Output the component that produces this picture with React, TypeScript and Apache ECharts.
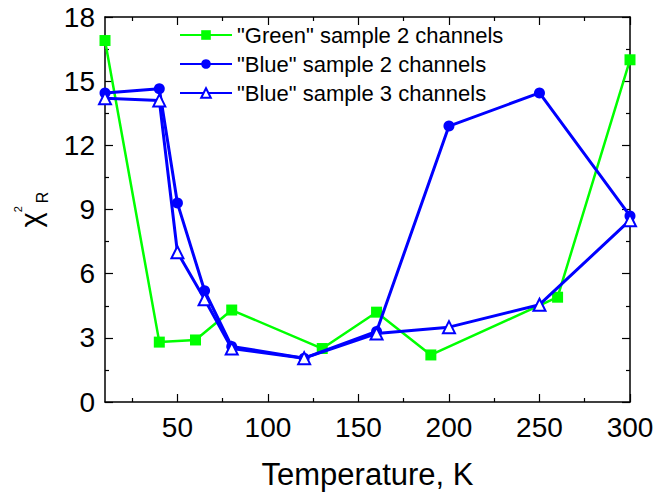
import React, { useEffect, useRef } from 'react';
import * as echarts from 'echarts';

// ---- data ----
const greenT = [10, 40, 60, 80, 130, 160, 190, 260, 300];
const greenV = [16.9, 2.8, 2.9, 4.3, 2.5, 4.2, 2.2, 4.9, 16.0];
const blueT = [10, 40, 50, 65, 80, 120, 160, 200, 250, 300];
const blue2V = [14.45, 14.65, 9.3, 5.2, 2.6, 2.05, 3.3, 12.9, 14.45, 8.7];
const blue3V = [14.2, 14.1, 7.0, 4.8, 2.5, 2.05, 3.2, 3.5, 4.55, 8.5];
const seriesNames = [
  '"Green" sample 2 channels',
  '"Blue" sample 2 channels',
  '"Blue" sample 3 channels',
];
const xMajorTicks = [50, 100, 150, 200, 250, 300];
const xMinorTicks = [25, 75, 125, 175, 225, 275];
const xTitle = 'Temperature, K';
const yTitle = '{c|χ}{s|2}{r|R}';

const FONT = '"Liberation Sans", Arial, Helvetica, sans-serif';
const GREEN = '#00ff00';
const BLUE = '#0000ff';

export default function App() {
  const ref = useRef<HTMLDivElement>(null);
  useEffect(() => {
    if (!ref.current) return;
    const chart = echarts.init(ref.current, undefined, { renderer: 'svg' });
    const axisLine = { show: true, lineStyle: { color: '#000', width: 1.5 } };
    const tickStyle = { color: '#000', width: 1.2 };
    const xBase: any = {
      type: 'value',
      min: 10,
      max: 300,
      splitLine: { show: false },
      gridIndex: 0,
    };
    const yBase: any = {
      type: 'value',
      min: 0,
      max: 18,
      interval: 3,
      splitLine: { show: false },
      axisLine,
      axisTick: { show: true, inside: true, length: 8, lineStyle: tickStyle },
      minorTick: { show: true, splitNumber: 2, length: 4, lineStyle: tickStyle },
    };
    const option: any = {
      animation: false,
      backgroundColor: '#fff',
      grid: { left: 105, right: 27, top: 17, bottom: 96, containLabel: false },
      legend: {
        data: seriesNames,
        orient: 'vertical',
        left: 179,
        top: 24,
        itemWidth: 52,
        itemHeight: 12,
        itemGap: 7,
        padding: 0,
        textStyle: { fontSize: 22, color: '#000', fontFamily: FONT },
      },
      xAxis: [
        {
          ...xBase,
          position: 'bottom',
          axisLine,
          axisTick: { show: true, inside: true, length: 8, customValues: xMajorTicks, lineStyle: tickStyle },
          axisLabel: { customValues: xMajorTicks, fontSize: 28, margin: 11, color: '#000', fontFamily: FONT },
          name: xTitle,
          nameLocation: 'middle',
          nameGap: 57,
          nameTextStyle: { fontSize: 31, color: '#000', fontFamily: FONT },
        },
        {
          ...xBase,
          position: 'bottom',
          axisLine: { show: false },
          axisTick: { show: true, inside: true, length: 4, customValues: xMinorTicks, lineStyle: tickStyle },
          axisLabel: { show: false },
        },
        {
          ...xBase,
          position: 'top',
          axisLine,
          axisTick: { show: true, inside: true, length: 8, customValues: xMajorTicks, lineStyle: tickStyle },
          axisLabel: { show: false },
        },
        {
          ...xBase,
          position: 'top',
          axisLine: { show: false },
          axisTick: { show: true, inside: true, length: 4, customValues: xMinorTicks, lineStyle: tickStyle },
          axisLabel: { show: false },
        },
      ],
      yAxis: [
        {
          ...yBase,
          position: 'left',
          axisLabel: { fontSize: 28, margin: 10, color: '#000', fontFamily: FONT },
          name: yTitle,
          nameLocation: 'middle',
          nameRotate: 90,
          nameGap: 55,
          nameTextStyle: {
            color: '#000',
            fontFamily: FONT,
            rich: {
              c: { fontSize: 29, fontFamily: FONT, color: '#000', lineHeight: 38, verticalAlign: 'middle' },
              s: { fontSize: 11, fontFamily: FONT, color: '#000', lineHeight: 38, verticalAlign: 'top', padding: [0, 0, 0, 0] },
              r: { fontSize: 16, fontFamily: FONT, color: '#000', lineHeight: 38, verticalAlign: 'bottom', padding: [0, 0, 0, 3] },
            },
          },
        },
        {
          ...yBase,
          position: 'right',
          axisLabel: { show: false },
        },
      ],
      series: [
        {
          type: 'line',
          name: seriesNames[0],
          xAxisIndex: 0,
          yAxisIndex: 0,
          data: greenT.map((t, i) => [t, greenV[i]]),
          symbol: 'rect',
          symbolSize: 11,
          lineStyle: { color: GREEN, width: 2.5 },
          itemStyle: { color: GREEN },
          z: 2,
        },
        {
          type: 'line',
          name: seriesNames[1],
          xAxisIndex: 0,
          yAxisIndex: 0,
          data: blueT.map((t, i) => [t, blue2V[i]]),
          symbol: 'circle',
          symbolSize: 11,
          lineStyle: { color: BLUE, width: 3 },
          itemStyle: { color: BLUE },
          z: 3,
        },
        {
          type: 'line',
          name: seriesNames[2],
          xAxisIndex: 0,
          yAxisIndex: 0,
          data: blueT.map((t, i) => [t, blue3V[i]]),
          symbol: 'triangle',
          symbolSize: 12,
          lineStyle: { color: BLUE, width: 3 },
          itemStyle: { color: '#ffffff', borderColor: BLUE, borderWidth: 2 },
          z: 4,
        },
      ],
    };
    chart.setOption(option);
    return () => chart.dispose();
  }, []);
  return (
    <div
      ref={ref}
      style={{ position: 'fixed', left: 0, top: 0, width: 657, height: 498, background: '#fff' }}
    />
  );
}
